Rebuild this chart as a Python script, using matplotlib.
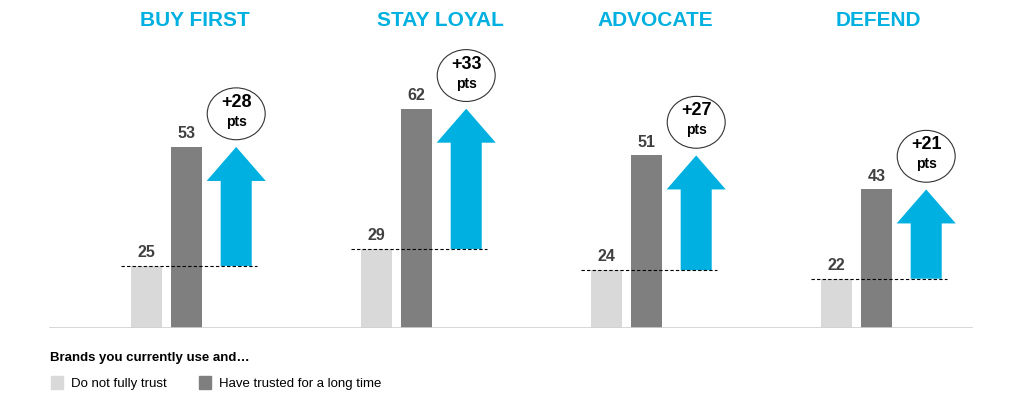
import matplotlib.pyplot as plt
import matplotlib.patches as mpatches

# data
groups = ["BUY FIRST", "STAY LOYAL", "ADVOCATE", "DEFEND"]
not_trust = [25, 29, 24, 22]
trusted = [53, 62, 51, 43]
gain_labels = ["+28", "+33", "+27", "+21"]
legend_title = "Brands you currently use and…"
series_names = ["Do not fully trust", "Have trusted for a long time"]

# title shift to the right of each group (layout only)
title_dx = [0.21, 0.28, 0.21, 0.18]

LIGHT = "#d9d9d9"
DARK = "#7f7f7f"
CYAN = "#00b0e0"
BASE = 10.4   # value where the bars start (axis is not zero-based)

plt.rcParams["font.family"] = ["Liberation Sans", "DejaVu Sans"]

fig = plt.figure(figsize=(10.24, 3.96), dpi=100)
ax = fig.add_axes([0, 68 / 396, 1, 328 / 396])
ax.set_xlim(-146.5 / 230, (1024 - 146.5) / 230)
top = BASE + 328 / 4.25
ax.set_ylim(BASE, top)
ax.axis("off")

bw = 0.135
for i in range(len(groups)):
    lo, hi = not_trust[i], trusted[i]
    ax.bar(i, lo - BASE, bottom=BASE, width=bw, color=LIGHT)
    ax.bar(i + 0.174, hi - BASE, bottom=BASE, width=bw, color=DARK)
    ax.text(i, lo + 2.1, str(lo), ha="center", va="baseline",
            fontsize=11.5, fontweight="bold", color="#404040")
    ax.text(i + 0.174, hi + 2.1, str(hi), ha="center", va="baseline",
            fontsize=11.5, fontweight="bold", color="#404040")

    # dashed reference line at the lower value
    ax.plot([i - 0.111, i + 0.48], [lo, lo], ls=(0, (3, 2)), lw=0.8, color="black")

    # up arrow from the lower to the higher value
    xa = i + 0.39
    ax.add_patch(mpatches.FancyArrow(xa, lo, 0, hi - lo, width=0.135,
                                     head_width=0.257, head_length=8,
                                     length_includes_head=True, color=CYAN, lw=0))

    # circled gain
    cy = hi + 7.8
    ax.add_patch(mpatches.Ellipse((xa, cy), 0.252, 12.2, facecolor="white",
                                  edgecolor="#333333", lw=0.8, clip_on=False))
    ax.text(xa, cy + 2.7, gain_labels[i], ha="center", va="center",
            fontsize=13, fontweight="bold", color="black")
    ax.text(xa, cy - 1.9, "pts", ha="center", va="center",
            fontsize=10, fontweight="bold", color="black")

    ax.text(i + title_dx[i], top - 20.5 / 4.25, groups[i], ha="center",
            va="center", fontsize=15, fontweight="bold", color=CYAN,
            clip_on=False)

ax.axhline(BASE, xmin=50 / 1024, xmax=972 / 1024, color="#d0d0d0", lw=1.2)

# legend
fig.text(50 / 1024, 37.5 / 396, legend_title, fontsize=9.5, fontweight="bold",
         va="center", ha="left", color="black")
fig.patches.append(mpatches.Rectangle((51 / 1024, 7 / 396), 12 / 1024, 13 / 396,
                                      transform=fig.transFigure, color=LIGHT))
fig.text(71 / 1024, 12.5 / 396, series_names[0], fontsize=9.5, va="center", ha="left")
fig.patches.append(mpatches.Rectangle((199 / 1024, 7 / 396), 12 / 1024, 13 / 396,
                                      transform=fig.transFigure, color=DARK))
fig.text(219 / 1024, 12.5 / 396, series_names[1], fontsize=9.5, va="center", ha="left")

fig.savefig("out.png", dpi=100)
